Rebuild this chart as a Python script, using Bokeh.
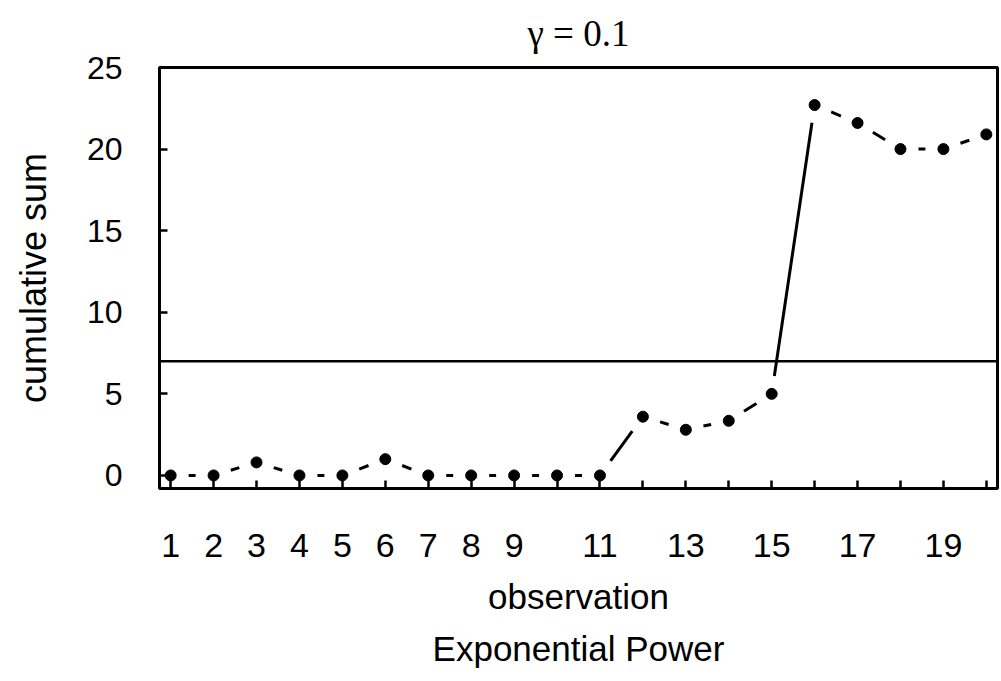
import math
from bokeh.plotting import figure
from bokeh.models import Span, Title, FixedTicker, Range1d
from bokeh.embed import file_html
from bokeh.resources import INLINE

# ---- data ----
observation = list(range(1, 21))
cumulative_sum = [0.0, 0.0, 0.8, 0.0, 0.0, 1.0, 0.0, 0.0, 0.0, 0.0,
                  0.0, 3.6, 2.8, 3.35, 5.0, 22.7, 21.6, 20.0, 20.0, 20.9]
threshold = 7.0
x_ticks = list(range(1, 21))
x_tick_labels = {t: (str(t) if (t <= 9 or t % 2 == 1) else "") for t in x_ticks}
y_ticks = [0, 5, 10, 15, 20, 25]
title_text = "γ = 0.1"

# ---- layout constants ----
FRAME_W, FRAME_H = 838, 421
X0, X1 = 0.74, 20.26
Y0, Y1 = -0.8, 25.0
GAP = 18  # px gap between marker and connecting segment

SANS = "Liberation Sans"

p = figure(frame_width=FRAME_W, frame_height=FRAME_H,
           min_border_left=159, min_border_right=4,
           min_border_top=67, min_border_bottom=193,
           x_range=Range1d(X0, X1), y_range=Range1d(Y0, Y1),
           output_backend="svg", toolbar_location=None,
           background_fill_color="white", border_fill_color="white")

p.grid.visible = False
p.outline_line_color = "black"
p.outline_line_width = 3

# title
p.title.text = title_text
p.title.align = "center"
p.title.vertical_align = "top"
p.title.text_font = "Liberation Serif"
p.title.text_font_size = "37px"
p.title.text_font_style = "normal"
p.title.text_color = "black"
p.title.standoff = 24

# axes
for ax in (p.xaxis[0], p.yaxis[0]):
    ax.axis_line_width = 3
    ax.major_tick_line_width = 2.5
    ax.major_tick_in = 8
    ax.major_tick_out = 0
    ax.minor_tick_line_color = None
    ax.major_label_text_font = SANS
    ax.major_label_text_color = "black"
    ax.axis_label_text_font = SANS
    ax.axis_label_text_font_style = "normal"
    ax.axis_label_text_color = "black"
    ax.axis_label_text_font_size = "35px"

p.xaxis.ticker = FixedTicker(ticks=x_ticks)
p.xaxis.major_label_overrides = x_tick_labels
p.xaxis.major_label_text_font_size = "34px"
p.xaxis.major_label_standoff = 45
p.xaxis.axis_label = "observation"
p.xaxis.axis_label_standoff = 17

p.yaxis.ticker = FixedTicker(ticks=y_ticks)
p.yaxis.major_label_text_font_size = "32px"
p.yaxis.major_label_standoff = 37
p.yaxis.axis_label = "cumulative sum"
p.yaxis.axis_label_text_font_size = "36px"
p.yaxis.axis_label_standoff = 30

sub = Title(text="Exponential Power", align="center", text_font=SANS,
            text_font_size="35px", text_font_style="normal",
            text_color="black", standoff=16)
p.add_layout(sub, "below")

# threshold line
p.add_layout(Span(location=threshold, dimension="width",
                  line_color="black", line_width=2.5))

# connecting segments, shortened near the markers
sx = FRAME_W / (X1 - X0)
sy = FRAME_H / (Y1 - Y0)
xs0, ys0, xs1, ys1 = [], [], [], []
for i in range(len(observation) - 1):
    xa, ya = observation[i], cumulative_sum[i]
    xb, yb = observation[i + 1], cumulative_sum[i + 1]
    dxp, dyp = (xb - xa) * sx, (yb - ya) * sy
    L = math.hypot(dxp, dyp)
    f = GAP / L
    xs0.append(xa + (xb - xa) * f)
    ys0.append(ya + (yb - ya) * f)
    xs1.append(xb - (xb - xa) * f)
    ys1.append(yb - (yb - ya) * f)
p.segment(xs0, ys0, xs1, ys1, line_color="black", line_width=3)

p.scatter(observation, cumulative_sum, size=11, color="black")

open("out.html", "w").write(file_html(p, INLINE))
